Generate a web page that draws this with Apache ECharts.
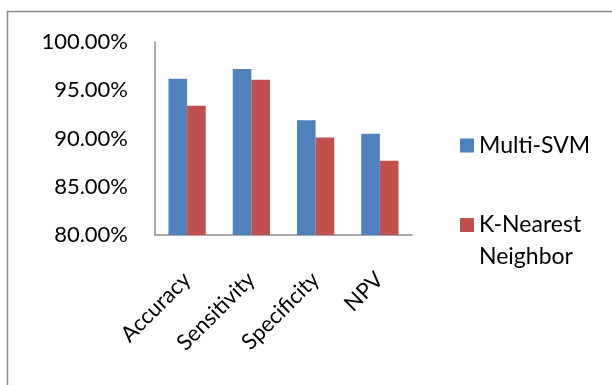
<!DOCTYPE html>
<html><head><meta charset="utf-8">
<script src="https://cdn.jsdelivr.net/npm/echarts@6/dist/echarts.min.js"></script>
<style>html,body{margin:0;padding:0;background:#fff}#c{width:612px;height:385px}</style>
</head><body><div id="c"></div>
<script>
var categories = ['Accuracy', 'Sensitivity', 'Specificity', 'NPV'];
var multiSVM = [96.2, 97.2, 91.9, 90.5];
var knn = [93.4, 96.1, 90.1, 87.7];
var seriesNames = ['Multi-SVM', 'K-Nearest Neighbor'];
var yMin = 80, yMax = 100, yStep = 5;

var font = 'Lato';
var chart = echarts.init(document.getElementById('c'));
chart.setOption({
  animation: false,
  graphic: [{
    type: 'rect', shape: {x: 7.5, y: 11.5, width: 640, height: 420},
    style: {fill: 'none', stroke: '#8c8c8c', lineWidth: 1.5}, silent: true
  }],
  grid: {left: 155, right: 200, top: 42, bottom: 150},
  legend: [{
    orient: 'vertical', left: 455, top: 124.5,
    itemWidth: 14, itemHeight: 14, icon: 'rect',
    data: [seriesNames[0]],
    textStyle: {fontFamily: font, fontSize: 23, color: '#000', lineHeight: 32}
  }, {
    orient: 'vertical', left: 455, top: 172,
    itemWidth: 14, itemHeight: 14, icon: 'rect',
    data: [seriesNames[1]],
    formatter: function (n) { return ' \n' + n.replace(' ', '\n'); },
    textStyle: {fontFamily: font, fontSize: 23, color: '#000', lineHeight: 32}
  }],
  xAxis: {
    type: 'category', data: categories,
    axisLine: {lineStyle: {color: '#8c8c8c', width: 1.5}},
    axisTick: {show: false},
    axisLabel: {rotate: 45, interval: 0, margin: 41, fontFamily: font, fontSize: 22, color: '#000'}
  },
  yAxis: {
    type: 'value', min: yMin, max: yMax, interval: yStep,
    axisLine: {show: true, lineStyle: {color: '#8c8c8c', width: 1.5}},
    axisTick: {show: false},
    splitLine: {show: false},
    axisLabel: {margin: 27, fontFamily: font, fontSize: 22, color: '#000',
      formatter: function (v) { return v.toFixed(2) + '%'; }}
  },
  series: [
    {name: seriesNames[0], type: 'bar', data: multiSVM, barGap: '0%', barCategoryGap: '42%',
     itemStyle: {color: '#4F81BD'}},
    {name: seriesNames[1], type: 'bar', data: knn,
     itemStyle: {color: '#C0504D'}}
  ]
});
</script></body></html>
